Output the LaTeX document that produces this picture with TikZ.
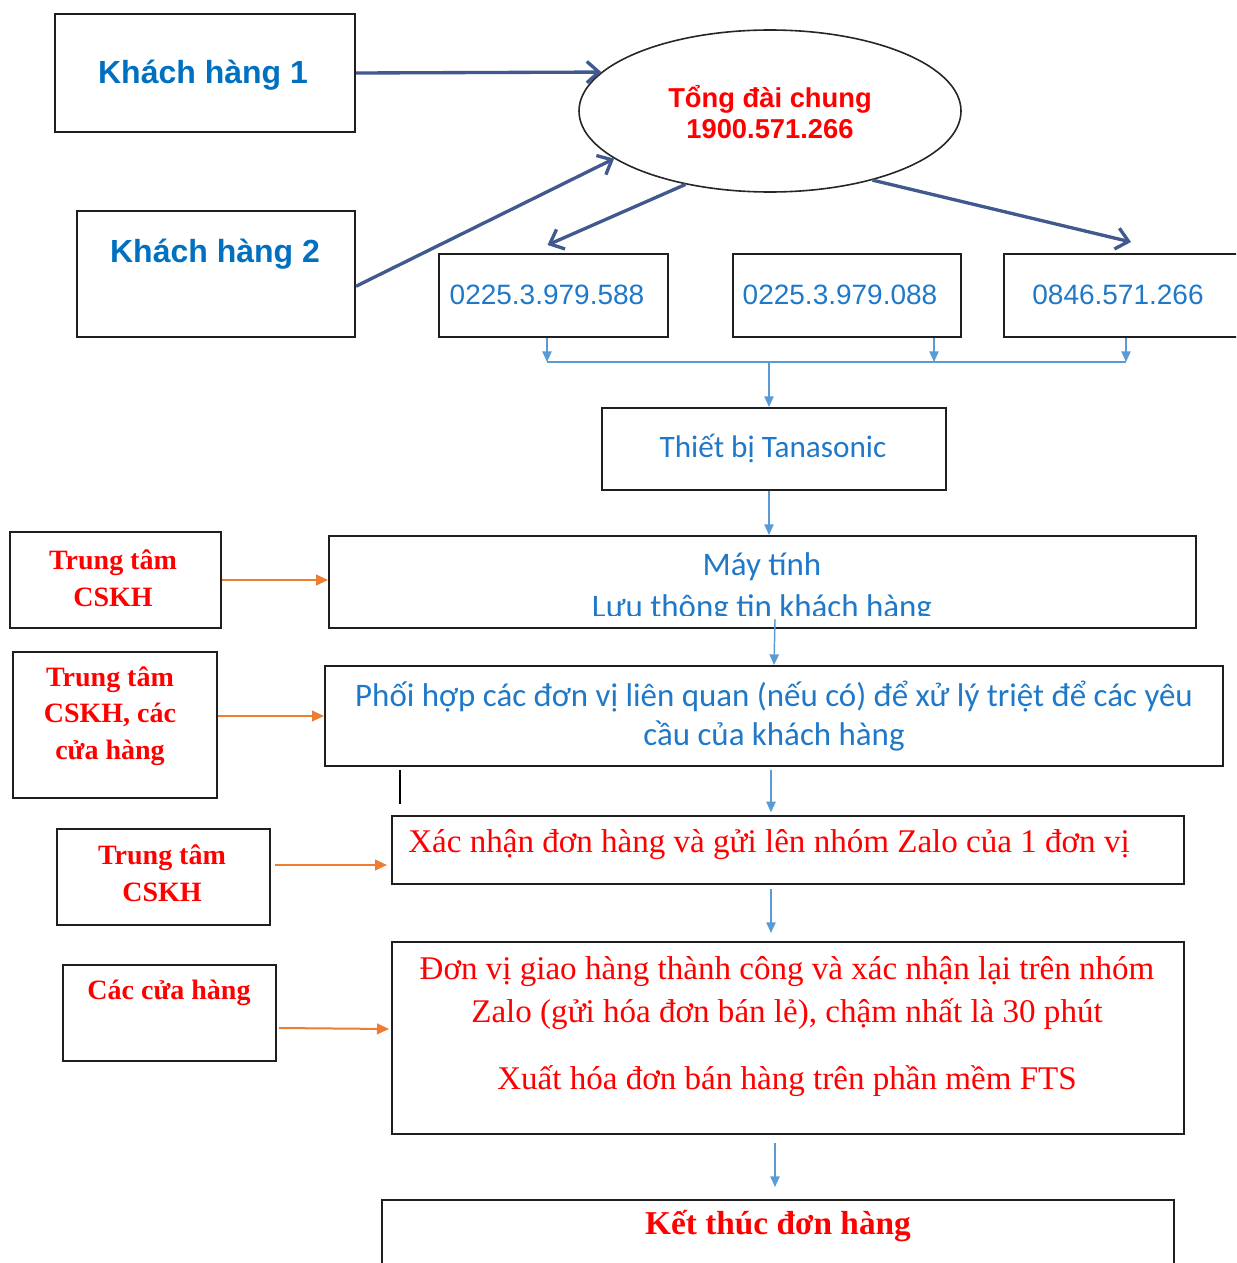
\documentclass[tikz,border=0pt]{standalone}
\usepackage{fontspec}
\setmainfont{Liberation Serif}
\newfontfamily\arialf{Liberation Sans}
\newfontfamily\calf{Carlito}
\usetikzlibrary{arrows.meta,shapes.geometric,calc}
\definecolor{kblue}{HTML}{0070C0}
\definecolor{pblue}{HTML}{1F78C8}
\definecolor{navy}{HTML}{41598F}
\definecolor{sky}{HTML}{5B9BD5}
\definecolor{org}{HTML}{ED7D31}
\definecolor{red1}{HTML}{FF0000}
\begin{document}
\begin{tikzpicture}[x=0.75pt,y=-0.75pt,
  box/.style={draw=black!88,line width=1.5pt,inner sep=0pt,rectangle},
  txt/.style={inner sep=0pt,align=center},
  heavy/.style={draw=navy,line width=2.5pt,-{Straight Barb[length=9pt,width=16pt]}},
  flow/.style={draw=sky,line width=1.1pt,-{Triangle[length=8pt,width=7pt]}},
  bus/.style={draw=sky,line width=1.1pt},
  side/.style={draw=org,line width=1.5pt,-{Triangle[length=9pt,width=8pt]}},
  kh/.style={txt,text=kblue,font=\arialf\bfseries\fontsize{24pt}{28pt}\selectfont},
  phone/.style={txt,text=pblue,font=\arialf\fontsize{21pt}{25pt}\selectfont},
  cal/.style={txt,text=pblue,font=\calf\fontsize{#1}{29.25pt}\selectfont},
  redb/.style={txt,text=red1,font=\bfseries\fontsize{21pt}{27.5pt}\selectfont},
  redr/.style={txt,text=red1,font=\fontsize{24.8pt}{32.25pt}\selectfont}]
\useasboundingbox (0,0) rectangle (1236,1263);
\clip (0,0) rectangle (1236,1263);

% customers and switchboard
\node[box,minimum width=225pt,minimum height=88.5pt] (kh1) at (205,73) {};
\node[kh] (kh1t) at (203,75) {Khách hàng 1};
\node[box,minimum width=208.5pt,minimum height=94.5pt] (kh2) at (216,274) {};
\node[kh] (kh2t) at (215,254) {Khách hàng 2};
\node[ellipse,draw=black!85,line width=1.2pt,inner sep=0pt,minimum width=286.5pt,minimum height=121.5pt] (ell) at (770,111) {};
\node[txt,text=red1,font=\arialf\bfseries\fontsize{20.5pt}{23.25pt}\selectfont] (ellt) at (770,112) {Tổng đài chung\\1900.571.266};

% phone lines
\node[box,minimum width=171.75pt,minimum height=62.25pt] (p1) at (553.5,295.5) {};
\node[box,minimum width=171pt,minimum height=62.25pt] (p2) at (847,295.5) {};
\node[box,minimum width=186pt,minimum height=62.25pt] (p3) at (1128,295.5) {};
\node[phone] (p1t) at (547,295) {0225.3.979.588};
\node[phone] (p2t) at (840,295) {0225.3.979.088};
\node[phone] (p3t) at (1118,295) {0846.571.266};

\draw[heavy] (kh1.east) -- (ell.167);
\draw[heavy] (kh2.-5) -- (ell.197);
\draw[heavy] (ell.221) -- ($(p1.north)+(-6,-8)$);
\draw[heavy] (ell.-34) -- ($(p3.north)+(3,-11)$);

% collecting bus
\coordinate (b1) at (547,362);
\coordinate (b2) at (934,362);
\coordinate (b3) at (1126,362);
\coordinate (bm) at (769,362);
\draw[flow] (p1.south -| b1) -- (b1);
\draw[flow] (p2.south -| b2) -- (b2);
\draw[flow] (p3.south -| b3) -- (b3);
\draw[bus] (b1) -- (b3);

% processing chain
\node[box,minimum width=258pt,minimum height=61.5pt] (tb) at (774,449) {};
\node[cal=23.4pt] (tbt) at (773,448) {Thiết bị Tanasonic};
\draw[flow] (bm) -- (tb.north -| bm);

\node[box,minimum width=650.25pt,minimum height=69pt] (mt) at (762.5,582) {};
\node[cal=24.7pt] (mtt1) at (762,567) {Máy tính};
\begin{scope}
  \clip (329,536) rectangle (1196,615);
  \node[cal=24.7pt] (mtt2) at (762,609) {Lưu thông tin khách hàng};
\end{scope}
\draw[flow] ($(tb.south)+(-5,0)$) -- ($(tb.south |- mt.north)+(-5,0)$);

\node[box,minimum width=673.5pt,minimum height=75pt] (ph) at (774,716) {};
\node[cal=24.7pt] (pht) at (774,716) {Phối hợp các đơn vị liên quan (nếu có) để xử lý triệt để các yêu\\cầu của khách hàng};
\draw[flow] ($(mt.south -| ph.north)+(1,-10)$) -- (ph.north);

\node[box,minimum width=594pt,minimum height=51pt] (xn) at (788,850) {};
\node[redr,anchor=west] (xnt) at (408,845) {Xác nhận đơn hàng và gửi lên nhóm Zalo của 1 đơn vị};
\draw[flow,shorten <=2pt,shorten >=2pt] ($(ph.south)+(-3,0)$) -- ($(ph.south |- xn.north)+(-3,0)$);
\draw[black,line width=1.2pt] (400,770) -- (400,804);

\node[box,minimum width=594pt,minimum height=144pt] (dv) at (788,1038) {};
\node[redr] (dvt) at (787,1027) {Đơn vị giao hàng thành công và xác nhận lại trên nhóm\\Zalo (gửi hóa đơn bán lẻ), chậm nhất là 30 phút\\[18pt]Xuất hóa đơn bán hàng trên phần mềm FTS};
\draw[flow,shorten <=3pt,shorten >=6pt] ($(xn.south)+(-17,0)$) -- ($(xn.south |- dv.north)+(-17,0)$);

\node[box,minimum width=594pt,minimum height=67.5pt] (kt) at (778,1245) {};
\node[txt,text=red1,font=\bfseries\fontsize{25pt}{30pt}\selectfont] (ktt) at (778,1226) {Kết thúc đơn hàng};
\draw[flow,shorten <=6pt,shorten >=9pt] ($(dv.south)+(-13,0)$) -- ($(dv.south |- kt.north)+(-13,0)$);

% responsible units
\node[box,minimum width=158.25pt,minimum height=72pt] (l1) at (115.5,580) {};
\node[redb] (l1t) at (113,578) {Trung tâm\\CSKH};
\node[box,minimum width=153pt,minimum height=109.5pt] (l2) at (115,725) {};
\node[redb] (l2t) at (110,716) {Trung tâm\\CSKH, các\\cửa hàng};
\node[box,minimum width=159.75pt,minimum height=72pt] (l3) at (163.5,877) {};
\node[redb] (l3t) at (162,873) {Trung tâm\\CSKH};
\node[box,minimum width=159.75pt,minimum height=72pt] (l4) at (169.5,1013) {};
\node[redb] (l4t) at (169,993) {Các cửa hàng};

\draw[side] (l1.east) -- (l1.east -| mt.west);
\draw[side] (ph.west -| l2.east) -- (ph.west);
\draw[side] ($(l3.east)+(4,-12)$) -- ($(l3.east -| xn.west)+(-4,-12)$);
\draw[side] ($(l4.east)+(2,15)$) -- ($(l4.east -| dv.west)+(-2,16)$);
\end{tikzpicture}
\end{document}
